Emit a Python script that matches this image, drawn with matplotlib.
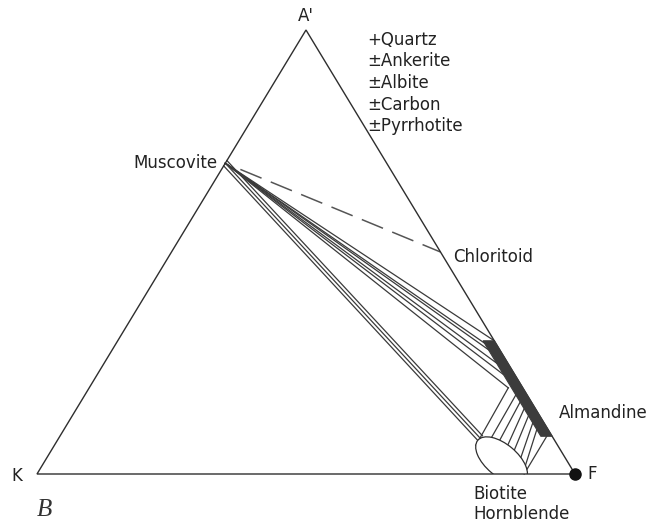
import matplotlib.pyplot as plt
from matplotlib.patches import Polygon, Ellipse

# AKF compositions (A, K, F fractions)
vertex_names = ["A'", "K", "F"]
muscovite = (0.70, 0.30, 0.00)
chloritoid = (0.50, 0.00, 0.50)

# almandine solid solution along the A-F join
alm_a_top, alm_a_bot, alm_k = 0.30, 0.085, 0.021

# muscovite - almandine tie lines (A, K at the almandine end)
fan_a = [0.300, 0.295, 0.280, 0.250, 0.224, 0.194]
fan_k = [0.000, 0.021, 0.021, 0.021, 0.021, 0.027]

# muscovite - biotite tie lines (start A on the A-K join, end composition)
bt_start_a = [0.694, 0.700, 0.706]
bt_end = [(0.0760, 0.143), (0.0811, 0.136), (0.0862, 0.129)]

# almandine - biotite tie lines: almandine end (A, K) and biotite end (A, K)
gt_bt_top = [(0.194, 0.027), (0.178, 0.021), (0.162, 0.021), (0.147, 0.021),
             (0.131, 0.021), (0.115, 0.021), (0.100, 0.021), (0.085, 0.010)]
gt_bt_bot = [(0.0811, 0.136), (0.088, 0.1085), (0.077, 0.101), (0.061, 0.096),
             (0.047, 0.0916), (0.0315, 0.0865), (0.016, 0.085), (0.000, 0.089)]

# biotite / hornblende field
bt_field = (0.031, 0.121)

assemblage = ["+Quartz", "\u00b1Ankerite", "\u00b1Albite", "\u00b1Carbon", "\u00b1Pyrrhotite"]

H = 444 / 538  # triangle height relative to base


def tern(a, k, f=None):
    if f is None:
        f = 1 - a - k
    s = a + k + f
    a, f = a / s, f / s
    return f + a / 2, a * H


fig = plt.figure(figsize=(6.66, 5.25), dpi=100)
ax = fig.add_axes([0, 0, 1, 1])
ax.set_xlim(-37 / 538, 629 / 538)
ax.set_ylim(-51 / 538, 474 / 538)
ax.axis("off")

A = tern(1, 0, 0)
K = tern(0, 1, 0)
F = tern(0, 0, 1)
edge_col = "#2e2e2e"
line_col = "#3a3a3a"

tri = Polygon([K, F, A], closed=True, fill=False, ec=edge_col, lw=1.0, zorder=3)
ax.add_patch(tri)

# dashed muscovite - chloritoid join
m = tern(*muscovite)
c = tern(*chloritoid)
s = 0.07
ax.plot([m[0] + s * (c[0] - m[0]), c[0]], [m[1] + s * (c[1] - m[1]), c[1]],
        color="#555555", lw=1.1, dashes=(15, 6.5), zorder=2)

# almandine bar
bar = Polygon([tern(alm_a_top, 0), tern(alm_a_bot, 0),
               tern(alm_a_bot, alm_k), tern(alm_a_top, alm_k)],
              closed=True, fc="#3c3c3c", ec="#3c3c3c", lw=0.8, zorder=4)
ax.add_patch(bar)

# tie lines muscovite -> almandine
for a, k in zip(fan_a, fan_k):
    p = tern(a, k)
    ax.plot([m[0], p[0]], [m[1], p[1]], color=line_col, lw=0.9, zorder=2)

# tie lines muscovite -> biotite
for a0, (a1, k1) in zip(bt_start_a, bt_end):
    p0 = tern(a0, 1 - a0, 0)
    p1 = tern(a1, k1)
    ax.plot([p0[0], p1[0]], [p0[1], p1[1]], color=line_col, lw=0.9, zorder=2)

# tie lines almandine -> biotite (run into the field, which masks them)
for (a0, k0), (a1, k1) in zip(gt_bt_top, gt_bt_bot):
    p0 = tern(a0, k0)
    p1 = tern(a1, k1)
    x1 = p0[0] + 1.15 * (p1[0] - p0[0])
    y1 = max(p0[1] + 1.15 * (p1[1] - p0[1]), 0)
    ax.plot([p0[0], x1], [p0[1], y1], color=line_col, lw=0.9, zorder=2)

# biotite field, cut off by the K-F join
bc = tern(*bt_field)
field = Ellipse(bc, width=62 / 538, height=32 / 538, angle=-40,
                fc="white", ec=edge_col, lw=0.9, zorder=2.5)
ax.add_patch(field)
field.set_clip_path(Polygon([K, F, A], closed=True, transform=ax.transData))

# F end member
ax.plot(*F, "o", color="#111111", ms=8, zorder=5)

txt = dict(fontsize=12, color="#222222", family="DejaVu Sans",
           textcoords="offset pixels", va="center")
ax.annotate(vertex_names[0], A, xytext=(0, 14), ha="center", **txt)
ax.annotate(vertex_names[1], K, xytext=(-20, -2), ha="center", **txt)
ax.annotate(vertex_names[2], F, xytext=(12, 0), ha="left", **txt)
for i, name in enumerate(assemblage):
    ax.annotate(name, A, xytext=(61, -10 - 21.5 * i), ha="left", **txt)
ax.annotate("Muscovite", m, xytext=(-8, 0), ha="right", **txt)
ax.annotate("Chloritoid", c, xytext=(13, -5), ha="left", **txt)
ax.annotate("Almandine", tern(alm_a_bot, 0), xytext=(7, 23), ha="left", **txt)
ax.annotate("Biotite", bc, xytext=(-28, -34), ha="left", **txt)
ax.annotate("Hornblende", bc, xytext=(-28, -54), ha="left", **txt)
ax.annotate("B", K, xytext=(0, -36), textcoords="offset pixels", ha="left",
            va="center", fontsize=18, style="italic", family="Liberation Serif",
            color="#333333")

fig.savefig("out.png", dpi=100)
